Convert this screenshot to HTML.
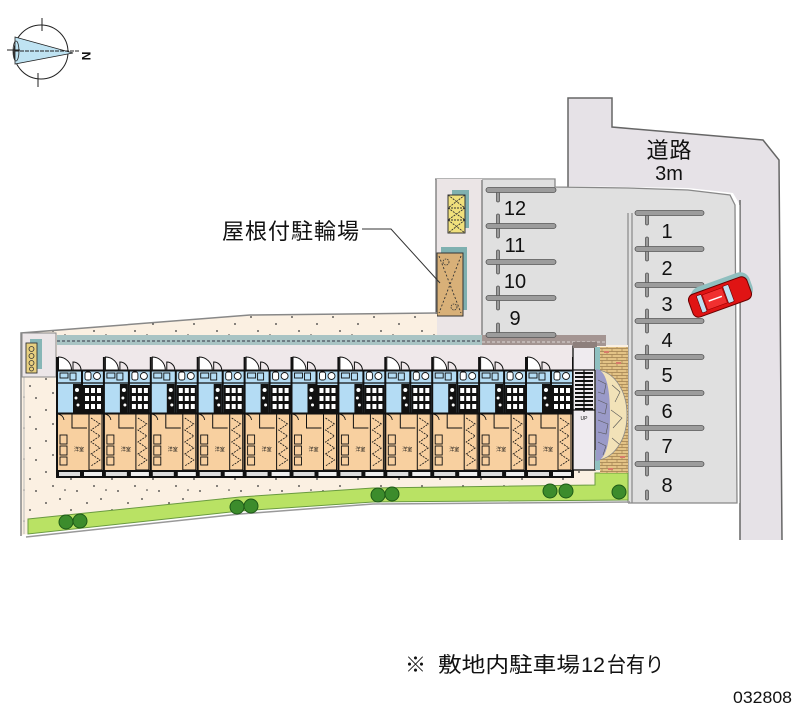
<!DOCTYPE html>
<html><head><meta charset="utf-8"><style>
html,body{margin:0;padding:0;background:#fff;}
svg{display:block;}
text{font-family:"Liberation Sans","Noto Sans CJK JP",sans-serif;fill:#111;}
</style></head><body>
<svg width="800" height="727" viewBox="0 0 800 727" xmlns="http://www.w3.org/2000/svg">
<defs>
<pattern id="dots" width="41" height="31" patternUnits="userSpaceOnUse">
<rect width="41" height="31" fill="#fbf0e2"/>
<g fill="#333"><circle cx="5" cy="7" r="0.9"/><circle cx="19" cy="3" r="0.9"/><circle cx="30" cy="14" r="0.9"/><circle cx="12" cy="21" r="0.9"/><circle cx="36" cy="26" r="0.9"/><circle cx="24" cy="25" r="0.8"/></g>
</pattern>
<pattern id="brick" width="10" height="6" patternUnits="userSpaceOnUse">
<rect width="10" height="6" fill="#e3c386"/>
<path d="M0,0.5H10M0,3.5H10M2,0.5V3.5M7,3.5V6.5" stroke="#a08050" stroke-width="0.7"/>
</pattern>
<g id="u">
<path d="M1.5,370V357A13,13 0 0 1 14.5,370" fill="#fff" stroke="#111" stroke-width="1"/>
<path d="M16,370V362A8,8 0 0 1 24,370" fill="none" stroke="#111" stroke-width="1"/>
<rect x="0" y="370" width="47" height="43" fill="#b4dcf4"/>
<path d="M0,370.5H47" stroke="#111" stroke-width="2"/>
<path d="M0,383H47" stroke="#111" stroke-width="1.2"/>
<rect x="3" y="373" width="8" height="5" fill="none" stroke="#111" stroke-width="0.9"/>
<rect x="13" y="373" width="6" height="7" fill="none" stroke="#111" stroke-width="0.9"/>
<path d="M25,370V413" stroke="#111" stroke-width="2"/>
<rect x="28" y="372" width="6" height="8" rx="2" fill="#fff" stroke="#111" stroke-width="0.9"/>
<circle cx="40" cy="376" r="3.5" fill="#fff" stroke="#111" stroke-width="0.9"/>
<rect x="16" y="384" width="8" height="29" fill="#111"/>
<circle cx="20" cy="390" r="2" fill="#fff"/><circle cx="19" cy="398" r="1.5" fill="#fff"/><circle cx="21" cy="405" r="1.5" fill="#fff"/>
<rect x="26" y="385" width="20" height="28" fill="#111"/>
<g fill="#fff"><rect x="28" y="388" width="4" height="5"/><rect x="34" y="388" width="4" height="5"/><rect x="40" y="388" width="4" height="5"/><rect x="28" y="396" width="4" height="5"/><rect x="34" y="396" width="4" height="5"/><rect x="40" y="396" width="4" height="5"/><rect x="28" y="404" width="4" height="5"/><rect x="34" y="404" width="4" height="5"/><rect x="40" y="404" width="4" height="5"/></g>
<rect x="0" y="413" width="47" height="57" fill="#f8d0a0"/>
<path d="M0,413.5H47" stroke="#111" stroke-width="2"/>
<path d="M1,414A7,7 0 0 1 7,420" fill="none" stroke="#111" stroke-width="0.9"/>
<path d="M15,413V428H30" fill="none" stroke="#111" stroke-width="1"/>
<rect x="32" y="414" width="13" height="56" fill="none" stroke="#111" stroke-width="1"/>
<path d="M34,418L43,424L34,430L43,436L34,442L43,448L34,454L43,460L34,466" fill="none" stroke="#111" stroke-width="0.8" stroke-dasharray="2,1"/>
<rect x="3" y="435" width="7" height="9" fill="none" stroke="#111" stroke-width="0.9"/>
<rect x="3" y="446" width="7" height="9" fill="none" stroke="#111" stroke-width="0.9"/>
<rect x="3" y="457" width="7" height="8" fill="none" stroke="#111" stroke-width="0.9"/>
<rect x="0" y="470" width="47" height="8" fill="#111"/>
<rect x="2" y="472" width="21" height="4" fill="#ddd"/>
<rect x="27" y="472" width="18" height="4" fill="#eee"/>
<path d="M0,357V478" stroke="#111" stroke-width="2"/>
</g>
</defs>

<!-- compass -->
<circle cx="41" cy="52" r="27" fill="none" stroke="#222" stroke-width="1"/>
<polygon points="15,37 73,53 15,64" fill="#bfe3f2" stroke="#222" stroke-width="0.8"/>
<path d="M15,51H80" stroke="#222" stroke-width="1" stroke-dasharray="4,1"/>
<ellipse cx="16" cy="51" rx="3" ry="10" fill="none" stroke="#222" stroke-width="0.8"/>
<path d="M42,18V31M38,73V87M7,50H20" stroke="#222" stroke-width="1"/>
<text x="0" y="0" font-size="12" font-weight="bold" transform="translate(82,56) rotate(90)" text-anchor="middle">N</text>

<!-- road -->
<polygon points="568,98 612,98 612,127 763,140 779,160 782,540 740,540 740,205 733,193 688,188 568,186" fill="#e6e2e7"/>
<polyline points="568,187 568,98 612,98 612,127 763,140 779,160 782,540" fill="none" stroke="#666" stroke-width="1.5"/>
<path d="M740,200V540" stroke="#666" stroke-width="1.5"/>
<!-- parking -->
<polygon points="482,180 555,180 555,187 628,188 688,190 730,195 735,205 737,503 628,503 628,345 482,345" fill="#e0e0e0"/>
<path d="M738.5,205V503" stroke="#fff" stroke-width="2"/>
<polyline points="435,179 555,179 555,187 628,188 688,190 730,195 735,205 737,503 628,503" fill="none" stroke="#888" stroke-width="1.3"/>
<path d="M628,213V503M632,213V503" stroke="#888" stroke-width="1.2"/>

<!-- bike column -->
<rect x="436" y="179" width="46" height="160" fill="#ebe5e6"/>
<path d="M436,179V345M482,180V340" stroke="#777" stroke-width="1.3"/>
<rect x="452" y="190" width="17" height="38" fill="#7fb0b0"/>
<rect x="448" y="195" width="17" height="38" fill="#f0e07c" stroke="#333" stroke-width="1"/>
<path d="M448,195L465,208M465,195L448,208M448,208L465,220M465,208L448,220M448,220L465,233M465,220L448,233M448,208H465M448,220H465" stroke="#333" stroke-width="0.9" stroke-dasharray="2,1"/>
<rect x="441" y="247" width="26" height="63" fill="#7fb0b0"/>
<rect x="437" y="253" width="26" height="63" fill="#d8b078" stroke="#333" stroke-width="1"/>
<path d="M439,256L461,313M461,256L439,313" stroke="#333" stroke-width="0.9" stroke-dasharray="2,2"/>
<circle cx="446" cy="262" r="3" fill="none" stroke="#333" stroke-width="0.8" stroke-dasharray="1.5,1"/>
<circle cx="454" cy="307" r="3" fill="none" stroke="#333" stroke-width="0.8" stroke-dasharray="1.5,1"/>

<!-- ground -->
<polygon points="21,333 250,315 437,314 437,345 628,345 628,473 595,473 595,485 373,488 240,497 28,519 21,519" fill="url(#dots)"/>
<polygon points="21,519 28,519 28,534 21,535" fill="url(#dots)"/>
<polyline points="21,536 21,333 250,315 437,313" fill="none" stroke="#888" stroke-width="1.5"/>
<polyline points="24,534 24,335" fill="none" stroke="#bbb" stroke-width="1"/>

<!-- green strip -->
<polygon points="28,519 240,497 373,488 595,485 595,473 628,473 628,500 373,502 240,511 28,534" fill="#b9e264" stroke="#6a9a40" stroke-width="1"/>
<polyline points="26,537 240,514 373,504 630,502" fill="none" stroke="#999" stroke-width="1.5"/>
<g fill="#3c8c2c" stroke="#1e5a18" stroke-width="1">
<circle cx="66" cy="522" r="7"/><circle cx="80" cy="521" r="7"/>
<circle cx="237" cy="507" r="7"/><circle cx="251" cy="506" r="7"/>
<circle cx="378" cy="495" r="7"/><circle cx="392" cy="494" r="7"/>
<circle cx="550" cy="491" r="7"/><circle cx="566" cy="491" r="7"/>
<circle cx="619" cy="492" r="7"/>
</g>

<!-- left small element -->
<rect x="22" y="333" width="34" height="44" fill="#ece6e8" stroke="#888" stroke-width="1"/>
<rect x="30" y="339" width="12" height="30" fill="#86b6b6"/>
<rect x="26" y="343" width="11" height="30" fill="#e8d080" stroke="#333" stroke-width="0.9"/>
<g fill="none" stroke="#333" stroke-width="0.8"><circle cx="31.5" cy="349" r="2.5"/><circle cx="31.5" cy="356" r="2.5"/><circle cx="31.5" cy="363" r="2.5"/><circle cx="31.5" cy="369" r="2"/></g>

<!-- top bands -->
<rect x="57" y="335" width="425" height="10" fill="#a9c4c4"/>
<path d="M57,341H482" stroke="#334" stroke-width="1" stroke-dasharray="3,2"/>
<rect x="482" y="335" width="124" height="11" fill="#a49592"/>
<path d="M482,342H606" stroke="#eee" stroke-width="0.8" stroke-dasharray="3,2"/>
<rect x="57" y="345" width="516" height="25" fill="#efe8ea"/>

<!-- units -->
<use href="#u" x="57"/><use href="#u" x="103.9"/><use href="#u" x="150.8"/><use href="#u" x="197.7"/><use href="#u" x="244.6"/><use href="#u" x="291.5"/><use href="#u" x="338.4"/><use href="#u" x="385.3"/><use href="#u" x="432.2"/><use href="#u" x="479.1"/><use href="#u" x="526"/>
<path d="M573,357V478" stroke="#111" stroke-width="2"/>
<g font-size="5" text-anchor="middle">
<text x="79" y="451">洋室</text><text x="125.9" y="451">洋室</text><text x="172.8" y="451">洋室</text><text x="219.7" y="451">洋室</text><text x="266.6" y="451">洋室</text><text x="313.5" y="451">洋室</text><text x="360.4" y="451">洋室</text><text x="407.3" y="451">洋室</text><text x="454.2" y="451">洋室</text><text x="501.1" y="451">洋室</text><text x="548" y="451">洋室</text>
</g>

<!-- stairs -->
<rect x="573" y="346" width="22" height="124" fill="#efebef" stroke="#111" stroke-width="1.3"/>
<g stroke="#111" stroke-width="2"><path d="M575,373H593M575,377H593M575,381H593M575,385H593M575,389H593M575,393H593M575,397H593M575,401H593M575,405H593M575,409H593"/></g>
<path d="M584,370V412M573,370H595M573,410H595" stroke="#111" stroke-width="1.3"/>
<text x="584" y="420" font-size="5" text-anchor="middle">UP</text>
<rect x="573" y="342" width="24" height="6" fill="#8d7f7c"/>
<rect x="595" y="347" width="5" height="23" fill="#8fc0c0"/>
<rect x="595" y="450" width="5" height="20" fill="#8fc0c0"/>

<!-- brick + cobblestones -->
<rect x="600" y="347" width="28" height="126" fill="url(#brick)"/>
<g fill="#d87a6a"><rect x="604" y="351" width="5" height="2"/><rect x="616" y="362" width="5" height="2"/><rect x="608" y="468" width="5" height="2"/><rect x="620" y="456" width="5" height="2"/><rect x="602" y="385" width="4" height="2"/></g>
<path d="M596,370A31,45 0 0 1 596,460Z" fill="#f2e2b8" stroke="#888" stroke-width="0.8"/>
<path d="M596,369Q610,370 610,415Q610,460 596,461Z" fill="#9a9ac8"/>
<g fill="none" stroke="#555" stroke-width="0.6"><path d="M598,380L606,384L604,394L598,392M598,400L607,404L605,414L598,412M598,420L608,424L606,434L598,432M598,442L606,446L603,455"/><path d="M612,385L620,392L615,402M611,410L622,418L613,428M612,438L619,444"/></g>

<!-- parking stalls -->
<g fill="#9c9c9c" stroke="#555" stroke-width="0.8">
<rect x="496.5" y="190" width="3" height="12" rx="1.5"/>
<rect x="496.5" y="214" width="3" height="24" rx="1.5"/>
<rect x="496.5" y="250" width="3" height="24" rx="1.5"/>
<rect x="496.5" y="286" width="3" height="24" rx="1.5"/>
<rect x="496.5" y="323" width="3" height="12" rx="1.5"/>
<rect x="486" y="187.5" width="70" height="5" rx="2.5"/>
<rect x="486" y="223.5" width="70" height="5" rx="2.5"/>
<rect x="486" y="259.5" width="70" height="5" rx="2.5"/>
<rect x="486" y="295.5" width="70" height="5" rx="2.5"/>
<rect x="486" y="332.5" width="70" height="5" rx="2.5"/>
<rect x="645.5" y="213" width="3" height="12" rx="1.5"/>
<rect x="645.5" y="237" width="3" height="24" rx="1.5"/>
<rect x="645.5" y="273" width="3" height="24" rx="1.5"/>
<rect x="645.5" y="309" width="3" height="24" rx="1.5"/>
<rect x="645.5" y="345" width="3" height="24" rx="1.5"/>
<rect x="645.5" y="381" width="3" height="24" rx="1.5"/>
<rect x="645.5" y="416" width="3" height="24" rx="1.5"/>
<rect x="645.5" y="452" width="3" height="24" rx="1.5"/>
<rect x="645.5" y="490" width="3" height="10" rx="1.5"/>
<rect x="635" y="210.5" width="69" height="5" rx="2.5"/>
<rect x="635" y="246.5" width="69" height="5" rx="2.5"/>
<rect x="635" y="282.5" width="69" height="5" rx="2.5"/>
<rect x="635" y="318.5" width="69" height="5" rx="2.5"/>
<rect x="635" y="354.5" width="69" height="5" rx="2.5"/>
<rect x="635" y="390.5" width="69" height="5" rx="2.5"/>
<rect x="635" y="425.5" width="69" height="5" rx="2.5"/>
<rect x="635" y="461.5" width="69" height="5" rx="2.5"/>
</g>

<g font-size="20" text-anchor="middle">
<text x="515" y="215">12</text><text x="515" y="252">11</text><text x="515" y="288">10</text><text x="515" y="325">9</text>
<text x="667" y="238">1</text><text x="667" y="275">2</text><text x="667" y="311">3</text><text x="667" y="347">4</text><text x="667" y="382">5</text><text x="667" y="418">6</text><text x="667" y="453">7</text><text x="667" y="492">8</text>
</g>

<!-- car -->
<g transform="translate(720,297) rotate(-20)">
<rect x="-28" y="-17" width="62" height="28" rx="10" fill="#8fbfbf"/>
<rect x="-31" y="-12" width="62" height="24" rx="6" fill="#e01414" stroke="#6a0000" stroke-width="1"/>
<rect x="-22" y="-9" width="5" height="18" rx="1" fill="#bfe0f0" stroke="#600" stroke-width="0.6"/>
<rect x="6" y="-9" width="6" height="18" rx="1" fill="#bfe0f0" stroke="#600" stroke-width="0.6"/>
<rect x="-16" y="-8" width="21" height="16" fill="#f03030" stroke="#900" stroke-width="0.6"/>
<path d="M-12,0H2" stroke="#fff" stroke-width="1.5"/>
</g>

<!-- labels -->
<text x="669" y="158" font-size="22" text-anchor="middle" textLength="45">道路</text>
<text x="669" y="180" font-size="20" text-anchor="middle">3m</text>
<text x="222" y="239" font-size="22" textLength="137" lengthAdjust="spacing">屋根付駐輪場</text>
<polyline points="362,229 391,229 440,283" fill="none" stroke="#333" stroke-width="1"/>

<g font-size="21">
<text x="405" y="672">※</text>
<text x="438" y="672" textLength="142" lengthAdjust="spacingAndGlyphs">敷地内駐車場</text>
<text x="581" y="672" textLength="24" lengthAdjust="spacingAndGlyphs">12</text>
<text x="607" y="672" textLength="57" lengthAdjust="spacingAndGlyphs">台有り</text>
</g>
<text x="733" y="703" font-size="17" textLength="59" lengthAdjust="spacingAndGlyphs">032808</text>
</svg>
</body></html>
